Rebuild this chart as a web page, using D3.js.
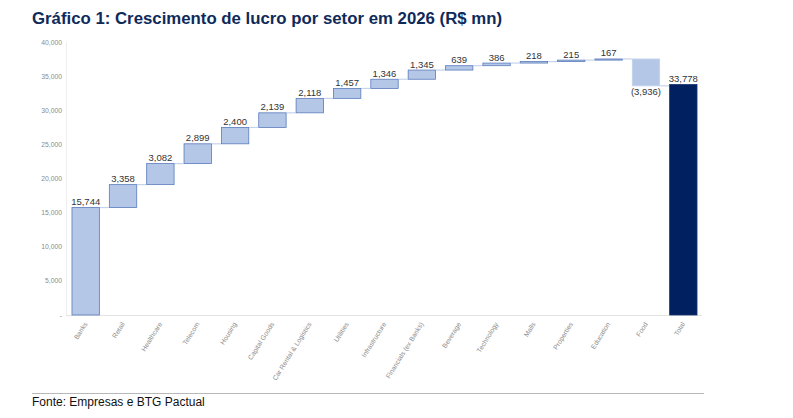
<!DOCTYPE html>
<html><head><meta charset="utf-8">
<script src="https://cdn.jsdelivr.net/npm/d3@7"></script>
<style>body{margin:0;background:#fff}svg{display:block}</style>
</head><body>
<svg id="c" width="793" height="418"></svg>
<script>
const categories = ["Banks","Retail","Healthcare","Telecom","Housing","Capital Goods","Car Rental & Logistics","Utilities","Infrastructure","Financials (ex Banks)","Beverage","Technology","Malls","Properties","Education","Food","Total"];
const values = [15744,3358,3082,2899,2400,2139,2118,1457,1346,1345,639,386,218,215,167,-3936,33778];
const yTicks = [0,5000,10000,15000,20000,25000,30000,35000,40000];
const title = "Gráfico 1: Crescimento de lucro por setor em 2026 (R$ mn)";
const source = "Fonte: Empresas e BTG Pactual";

const svg = d3.select("#c");
const x = d3.scaleBand().domain(categories).range([67,702]).paddingInner(0.24).paddingOuter(0.12);
const y = d3.scaleLinear().domain([0,40000]).range([315,42]);

let cum = 0;
const data = categories.map((c,i)=>{
  const v = values[i];
  let y0, y1;
  if (c === "Total") { y0 = 0; y1 = v; }
  else { y0 = cum; y1 = cum + v; cum = y1; }
  return {c, v, y0, y1, total: c==="Total"};
});

svg.append("text").attr("x",32).attr("y",23.5).attr("font-family","Liberation Sans, Arial, sans-serif")
  .attr("font-weight","bold").attr("font-size",16.8).attr("fill","#0F2A5A").text(title);

const fmt = d3.format(",");
svg.append("line").attr("x1",66.5).attr("x2",66.5).attr("y1",42).attr("y2",315).attr("stroke","#eeeeee");
svg.append("g").selectAll("text").data(yTicks).join("text")
  .attr("x",62).attr("y",d=>y(d)+2.5).attr("text-anchor","end")
  .attr("font-family","Liberation Sans, Arial, sans-serif").attr("font-size",6.8).attr("fill","#8c8c8c")
  .text(d=>d===0?"-":fmt(d));
svg.append("line").attr("x1",66).attr("x2",702).attr("y1",315.5).attr("y2",315.5).attr("stroke","#e3e3e3");

const conn = data.slice(0,-1).map((d,i)=>({x1:x(d.c)+x.bandwidth(), x2:x(categories[i+1]), yv: d.y1}));
svg.append("g").selectAll("line").data(conn).join("line")
  .attr("x1",d=>d.x1).attr("x2",d=>d.x2).attr("y1",d=>y(d.yv)).attr("y2",d=>y(d.yv))
  .attr("stroke","#c5d3ea").attr("stroke-width",1.2);

svg.append("g").selectAll("rect").data(data).join("rect")
  .attr("x",d=>x(d.c)+0.5).attr("width",x.bandwidth()-1)
  .attr("y",d=>y(Math.max(d.y0,d.y1))).attr("height",d=>Math.max(1,Math.abs(y(d.y0)-y(d.y1))))
  .attr("fill",d=>d.total?"#002060":"#B4C7E7")
  .attr("stroke",d=>d.total?"#1a3570":(d.v<0?"#c3d2ec":"#5A7BBC"))
  .attr("stroke-width",0.8);

svg.append("g").selectAll("text").data(data).join("text")
  .attr("x",d=>x(d.c)+x.bandwidth()/2)
  .attr("y",d=>d.v<0 ? y(Math.min(d.y0,d.y1))+9 : y(Math.max(d.y0,d.y1))-2.5)
  .attr("text-anchor","middle").attr("font-family","Liberation Sans Narrow, Liberation Sans, Arial, sans-serif")
  .attr("font-size",9.5).attr("fill","#333")
  .text(d=>d.v<0?"("+fmt(-d.v)+")":fmt(d.v));

svg.append("g").selectAll("text").data(categories).join("text")
  .attr("transform",d=>`translate(${x(d)+x.bandwidth()/2+2},324) rotate(-58)`)
  .attr("text-anchor","end").attr("font-family","Liberation Sans, Arial, sans-serif")
  .attr("font-size",6.8).attr("fill","#8c8c8c").text(d=>d);

svg.append("line").attr("x1",32).attr("x2",704).attr("y1",393.5).attr("y2",393.5).attr("stroke","#b8b8b8").attr("stroke-width",1);
svg.append("text").attr("x",32).attr("y",406).attr("font-family","Liberation Sans, Arial, sans-serif")
  .attr("font-size",12).attr("fill","#111").text(source);
</script>
</body></html>
